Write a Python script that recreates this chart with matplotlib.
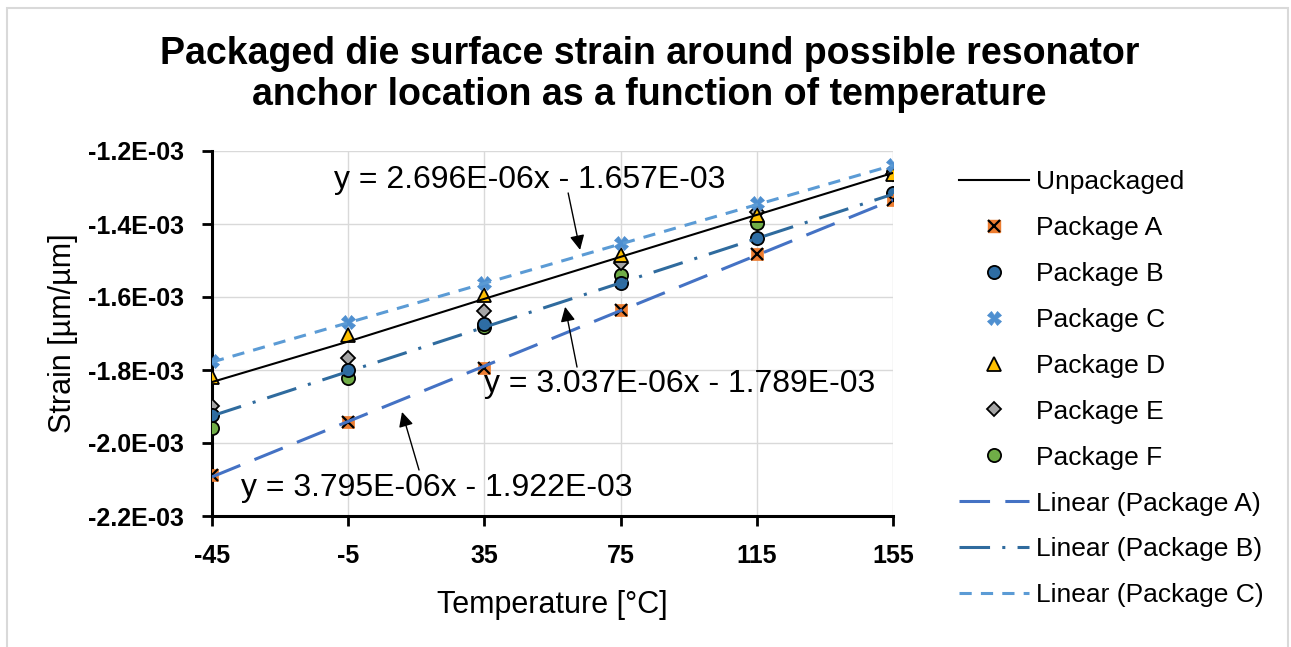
import matplotlib
matplotlib.use("Agg")
import matplotlib.pyplot as plt
import numpy as np
from matplotlib.lines import Line2D
from matplotlib.legend_handler import HandlerTuple
from matplotlib.patches import Rectangle

plt.rcParams['font.family'] = ['Liberation Sans', 'DejaVu Sans']

temps = [-45, -5, 35, 75, 115, 155]
unpackaged = [-1.833e-3, -1.722e-3, -1.605e-3, -1.490e-3, -1.375e-3, -1.260e-3]
pkg_a = [-2.088e-3, -1.942e-3, -1.794e-3, -1.636e-3, -1.483e-3, -1.334e-3]
pkg_b = [-1.923e-3, -1.800e-3, -1.675e-3, -1.562e-3, -1.437e-3, -1.316e-3]
pkg_c = [-1.775e-3, -1.668e-3, -1.563e-3, -1.453e-3, -1.343e-3, -1.238e-3]
pkg_d = [-1.818e-3, -1.704e-3, -1.595e-3, -1.485e-3, -1.375e-3, -1.262e-3]
pkg_e = [-1.898e-3, -1.766e-3, -1.638e-3, -1.508e-3, -1.366e-3, -1.262e-3]
pkg_f = [-1.960e-3, -1.821e-3, -1.681e-3, -1.540e-3, -1.398e-3, -1.258e-3]

fit_a = (3.795e-6, -1.922e-3)
fit_b = (3.037e-6, -1.789e-3)
fit_c = (2.696e-6, -1.657e-3)
eq_a = "y = 3.795E-06x - 1.922E-03"
eq_b = "y = 3.037E-06x - 1.789E-03"
eq_c = "y = 2.696E-06x - 1.657E-03"

y_ticks = [-1.2e-3, -1.4e-3, -1.6e-3, -1.8e-3, -2.0e-3, -2.2e-3]

W, H = 1291, 647
fig = plt.figure(figsize=(W / 100, H / 100), dpi=100)
fig.patches.append(Rectangle((7 / W, -0.01), (1288 - 7) / W, 1 - 8 / H + 0.01,
                             transform=fig.transFigure, fill=False,
                             edgecolor='#d9d9d9', lw=1.5))

ax = fig.add_axes([212 / W, 1 - 516 / H, (893 - 212) / W, (516 - 151) / H])

c_a_mark = '#ED7D31'
c_b_mark = '#2E6DA4'
c_c_mark = '#4E8FD0'
c_d_mark = '#FFC000'
c_e_mark = '#A5A5A5'
c_f_mark = '#70AD47'
c_lin_a = '#4472C4'
c_lin_b = '#2F6B9E'
c_lin_c = '#5B9BD5'

ms = 9.5
mew = 1.3
t = np.array(temps)

# markers
ax.plot(temps, pkg_f, 'o', ms=ms, mfc=c_f_mark, mec='black', mew=mew, zorder=3)
ax.plot(temps, pkg_e, 'D', ms=7, mfc=c_e_mark, mec='black', mew=mew, zorder=3)
ax.plot(temps, pkg_d, '^', ms=ms, mfc=c_d_mark, mec='black', mew=mew, zorder=3)
ax.plot(temps, pkg_b, 'o', ms=ms, mfc=c_b_mark, mec='black', mew=mew, zorder=3)
ax.plot(temps, pkg_c, 'X', ms=10, mfc=c_c_mark, mec=c_c_mark, mew=0.5, zorder=3)
ax.plot(temps, pkg_a, 's', ms=8, mfc=c_a_mark, mec=c_a_mark, mew=0.5, zorder=3)
ax.plot(temps, pkg_a, 'x', ms=8, mec='black', mew=1.6, zorder=3.1)

# lines
ax.plot(temps, unpackaged, '-', color='black', lw=1.5, zorder=4)
ax.plot(t, fit_a[0] * t + fit_a[1], color=c_lin_a, lw=2.2, dashes=(10, 5), zorder=4)
ax.plot(t, fit_b[0] * t + fit_b[1], color=c_lin_b, lw=2.2, dashes=(10, 4, 1, 4), zorder=4)
ax.plot(t, fit_c[0] * t + fit_c[1], color=c_lin_c, lw=2.2, dashes=(4, 3), zorder=4)

ax.set_xlim(-45, 155)
ax.set_ylim(-2.2e-3, -1.2e-3)
ax.set_xticks(temps)
ax.set_xticklabels([str(v) for v in temps], fontweight='bold', fontsize=18)
ax.set_yticks(y_ticks)
ax.set_yticklabels([f"{v:.1E}" for v in y_ticks], fontweight='bold', fontsize=18)
ax.grid(True, color='#d9d9d9', lw=1)
ax.set_axisbelow(True)
for s in ['top', 'right']:
    ax.spines[s].set_visible(False)
for s in ['left', 'bottom']:
    ax.spines[s].set_linewidth(2.2)
    ax.spines[s].set_color('black')
ax.tick_params(axis='both', length=7, width=2, color='black')
ax.tick_params(axis='x', pad=13)
ax.tick_params(axis='y', pad=13)
ax.set_xlabel("Temperature [°C]", fontsize=22)
ax.set_ylabel("Strain [µm/µm]", fontsize=22)
ax.xaxis.set_label_coords(0.5, -(590 - 516) / 365)
ax.yaxis.set_label_coords(-(212 - 78) / 681, 0.5)

fig.text(0.503, 1 - 74.5 / H, "Packaged die surface strain around possible resonator\nanchor location as a function of temperature",
         ha='center', va='center', fontsize=27, fontweight='bold', linespacing=1.2)

ap = dict(arrowstyle='-|>', color='black', lw=1, mutation_scale=22, shrinkA=0, shrinkB=0)
ax.annotate("", xy=(63.1, -1.471e-3), xytext=(59.6, -1.315e-3), arrowprops=ap, zorder=5)
ax.annotate("", xy=(58.7, -1.627e-3), xytext=(62.2, -1.792e-3), arrowprops=ap, zorder=5)
ax.annotate("", xy=(10.8, -1.915e-3), xytext=(15.8, -2.074e-3), arrowprops=ap, zorder=5)
ax.text(48.4, -1.279e-3, eq_c, ha='center', va='center', fontsize=23, zorder=5)
ax.text(92.4, -1.838e-3, eq_b, ha='center', va='center', fontsize=23, zorder=5)
ax.text(21.1, -2.123e-3, eq_a, ha='center', va='center', fontsize=23, zorder=5)

handles = [
    Line2D([], [], color='black', lw=1.5),
    (Line2D([], [], ls='', marker='s', ms=8, mfc=c_a_mark, mec=c_a_mark),
     Line2D([], [], ls='', marker='x', ms=8, mec='black', mew=1.6)),
    Line2D([], [], ls='', marker='o', ms=ms, mfc=c_b_mark, mec='black', mew=mew),
    Line2D([], [], ls='', marker='X', ms=10, mfc=c_c_mark, mec=c_c_mark, mew=0.5),
    Line2D([], [], ls='', marker='^', ms=ms, mfc=c_d_mark, mec='black', mew=mew),
    Line2D([], [], ls='', marker='D', ms=7, mfc=c_e_mark, mec='black', mew=mew),
    Line2D([], [], ls='', marker='o', ms=ms, mfc=c_f_mark, mec='black', mew=mew),
    Line2D([], [], color=c_lin_a, lw=2.2, dashes=(10, 5)),
    Line2D([], [], color=c_lin_b, lw=2.2, dashes=(10, 4, 1, 4)),
    Line2D([], [], color=c_lin_c, lw=2.2, dashes=(4, 3)),
]
labels = ["Unpackaged", "Package A", "Package B", "Package C", "Package D",
          "Package E", "Package F", "Linear (Package A)", "Linear (Package B)",
          "Linear (Package C)"]
fig.legend(handles, labels, loc='upper left', bbox_to_anchor=(946 / W, 1 - 157 / H),
           frameon=False, fontsize=19, handlelength=2.65, handletextpad=0.25,
           labelspacing=0.83, borderpad=0,
           handler_map={tuple: HandlerTuple(ndivide=1, pad=0)})

fig.savefig("out.png", dpi=100)
